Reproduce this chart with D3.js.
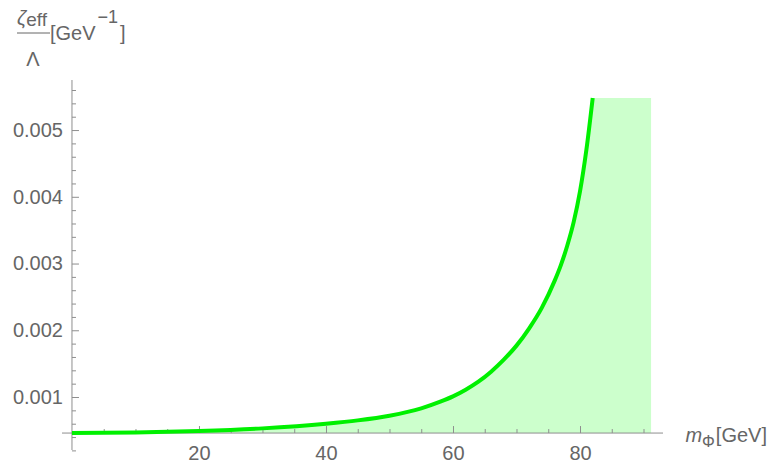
<!DOCTYPE html>
<html>
<head>
<meta charset="utf-8">
<script src="https://cdn.jsdelivr.net/npm/d3@7"></script>
<style>
  html, body { margin: 0; padding: 0; background: #fff; }
  svg { display: block; font-family: "Liberation Sans", Arial, sans-serif; }
</style>
</head>
<body>
<svg id="chart" width="770" height="470"></svg>
<script>
// Effective coupling bound ζ_eff/Λ as a function of the scalar mass m_Φ
const massGeV = [0, 10, 20, 30, 40, 45, 50, 55, 58, 60, 62, 64, 66, 68, 70, 72, 74, 76, 77, 78, 79, 80, 81, 82];
const zetaOverLambda = [0.000460, 0.000468, 0.000490, 0.000530, 0.000600, 0.000650, 0.000720, 0.000830,
  0.000930, 0.001010, 0.001110, 0.001230, 0.001380, 0.001560, 0.001770, 0.002030, 0.002340,
  0.002740, 0.002980, 0.003270, 0.003620, 0.004080, 0.004700, 0.005480];
// shaded region extends to this mass (GeV)
const shadeEndMass = 91.19;

const xMajorTicks = [20, 40, 60, 80];
const xMinorTicks = [5, 10, 15, 25, 30, 35, 45, 50, 55, 65, 70, 75, 85, 90];
const yMajorTicks = [0.001, 0.002, 0.003, 0.004, 0.005];
const yMajorLabels = ["0.001", "0.002", "0.003", "0.004", "0.005"];
const yMinorTicks = [0.0002, 0.0004, 0.0006, 0.0008, 0.0012, 0.0014, 0.0016, 0.0018,
  0.0022, 0.0024, 0.0026, 0.0028, 0.0032, 0.0034, 0.0036, 0.0038,
  0.0042, 0.0044, 0.0046, 0.0048, 0.0052, 0.0054, 0.0056];

const xDomain = [-1.57, 93.07];
const yDomain = [0.000206, 0.00575];
const xAxisCrossing = 0.00046;

const svg = d3.select("#chart");
const x = d3.scaleLinear().domain(xDomain).range([62, 663]);
const y = d3.scaleLinear().domain(yDomain).range([450, 80]);

const axisColor = "#8e8e8e";
const labelColor = "#666";
const data = massGeV.map((m, i) => ({ m, v: zetaOverLambda[i] }));

// filled region: under the curve, then out to the shade end at the curve's top value
const line = d3.line().x(d => x(d.m)).y(d => y(d.v)).curve(d3.curveMonotoneX);
const last = data[data.length - 1];
const fillPath = line(data) +
  "L" + x(shadeEndMass) + "," + y(last.v) +
  "L" + x(shadeEndMass) + "," + y(xAxisCrossing) +
  "L" + x(data[0].m) + "," + y(xAxisCrossing) + "Z";
svg.append("path").attr("d", fillPath).attr("fill", "#ccffcc").attr("stroke", "none");

// x axis (ticks pointing up, labels below)
const xAxisY = y(xAxisCrossing);
const gx = svg.append("g").attr("transform", `translate(0,${xAxisY})`);
gx.append("line").attr("x1", x.range()[0]).attr("x2", x.range()[1])
  .attr("stroke", axisColor).attr("stroke-width", 1);
gx.call(d3.axisBottom(x).tickValues(xMinorTicks).tickSize(-4).tickFormat(""))
  .call(g => g.select(".domain").remove());
svg.append("g").attr("transform", `translate(0,${xAxisY})`)
  .call(d3.axisBottom(x).tickValues(xMajorTicks).tickSize(-7).tickPadding(13).tickFormat(d3.format("d")))
  .call(g => g.select(".domain").remove());

// y axis (ticks pointing right, labels left)
const yAxisX = x(0);
const gy = svg.append("g").attr("transform", `translate(${yAxisX},0)`);
gy.append("line").attr("y1", y.range()[0]).attr("y2", y.range()[1])
  .attr("stroke", axisColor).attr("stroke-width", 1);
gy.call(d3.axisLeft(y).tickValues(yMinorTicks).tickSize(-4).tickFormat(""))
  .call(g => g.select(".domain").remove());
svg.append("g").attr("transform", `translate(${yAxisX},0)`)
  .call(d3.axisLeft(y).tickValues(yMajorTicks).tickSize(-7).tickPadding(9)
    .tickFormat((d, i) => yMajorLabels[i]))
  .call(g => g.select(".domain").remove());

svg.selectAll(".tick line").attr("stroke", axisColor).attr("stroke-width", 1);
svg.selectAll(".tick text").attr("fill", labelColor).attr("font-size", 20)
  .attr("font-family", "'Liberation Sans', Arial, sans-serif");

// curve
svg.append("path").attr("d", line(data)).attr("fill", "none")
  .attr("stroke", "#00f000").attr("stroke-width", 4).attr("stroke-linecap", "butt");

// y axis label: ζ_eff / Λ [GeV^-1]
const yl = svg.append("g").attr("fill", labelColor);
const num = yl.append("text").attr("x", 17).attr("y", 25);
num.append("tspan").attr("font-size", 20).attr("font-style", "italic").text("ζ");
num.append("tspan").attr("font-size", 19).attr("dy", 1).text("eff");
yl.append("line").attr("x1", 17).attr("x2", 50).attr("y1", 33).attr("y2", 33)
  .attr("stroke", labelColor).attr("stroke-width", 1);
yl.append("text").attr("x", 33).attr("y", 66).attr("font-size", 20).attr("text-anchor", "middle").text("Λ");
const unit = yl.append("text").attr("x", 50).attr("y", 40).attr("font-size", 20);
unit.append("tspan").text("[GeV");
unit.append("tspan").attr("font-size", 18).attr("dy", -17).attr("dx", 2).text("−1");
unit.append("tspan").attr("dy", 17).attr("dx", 2).text("]");

// x axis label: m_Φ [GeV]
const xl = svg.append("text").attr("fill", labelColor).attr("x", 767).attr("y", 442)
  .attr("text-anchor", "end");
xl.append("tspan").attr("font-size", 20).attr("font-style", "italic").text("m");
xl.append("tspan").attr("font-size", 16).attr("dy", 5).text("Φ");
xl.append("tspan").attr("font-size", 20).attr("dy", -5).attr("dx", 1).text("[GeV]");
</script>
</body>
</html>
